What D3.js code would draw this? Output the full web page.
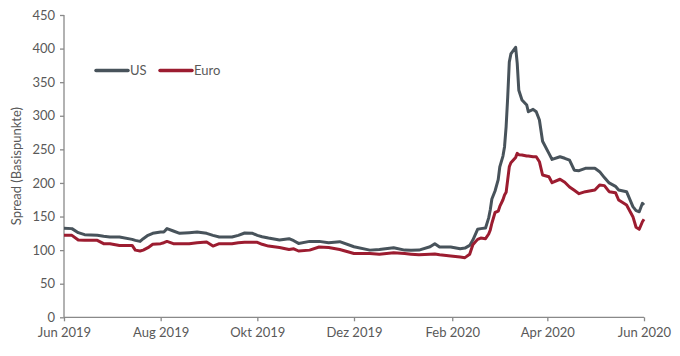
<!DOCTYPE html>
<html><head><meta charset="utf-8">
<script src="https://cdn.jsdelivr.net/npm/d3@7"></script>
<style>body{margin:0;background:#fff;} svg{display:block;}</style>
</head><body><svg id="c" width="680" height="356"></svg>
<script>
const seriesNames = ["US", "Euro"];
const dates = ["2019-06-01","2019-06-06","2019-06-10","2019-06-14","2019-06-22","2019-06-26","2019-06-30","2019-07-06","2019-07-14","2019-07-16","2019-07-19","2019-07-21","2019-07-24","2019-07-27","2019-08-01","2019-08-03","2019-08-05","2019-08-09","2019-08-13","2019-08-19","2019-08-24","2019-08-30","2019-09-03","2019-09-07","2019-09-15","2019-09-19","2019-09-23","2019-09-28","2019-10-01","2019-10-04","2019-10-08","2019-10-15","2019-10-21","2019-10-24","2019-10-27","2019-11-03","2019-11-09","2019-11-15","2019-11-22","2019-12-01","2019-12-11","2019-12-17","2019-12-26","2020-01-02","2020-01-06","2020-01-11","2020-01-18","2020-01-21","2020-01-24","2020-01-31","2020-02-06","2020-02-09","2020-02-12","2020-02-14","2020-02-17","2020-02-19","2020-02-22","2020-02-24","2020-02-25","2020-02-26","2020-02-28","2020-03-01","2020-03-02","2020-03-04","2020-03-05","2020-03-06","2020-03-07","2020-03-08","2020-03-09","2020-03-12","2020-03-13","2020-03-14","2020-03-16","2020-03-19","2020-03-20","2020-03-23","2020-03-25","2020-03-27","2020-03-29","2020-04-02","2020-04-04","2020-04-09","2020-04-12","2020-04-15","2020-04-18","2020-04-21","2020-04-25","2020-05-01","2020-05-04","2020-05-07","2020-05-10","2020-05-14","2020-05-16","2020-05-21","2020-05-25","2020-05-27","2020-05-29","2020-05-31","2020-06-01"];
const usValues = [132.5,132,126,123,122,120.5,119.5,119.5,116,114.5,113,117,122,125,127,127,132,128.5,125,126,127,125,122,119.5,119.5,122,125.5,125,122,120,118,115,117,114,110,113,113,111,112.6,105,100,101,103.6,100,99.7,100,105,109.6,104.6,104.6,102,103,107,115,131,132,133,148,160,176,188,205,224,240,254,284,328,380,392,402,378,338,323.5,316,306,309.6,306,293.7,262,244,235,239,236.7,234,219,218.3,221.8,221.8,216.8,208,200,195,189.5,187,164.7,158.7,157.2,169.7,167.2];
const euroValues = [122,122,115,114.6,114.6,109.6,109.6,107,107,100,98.7,100,103.6,108.7,109.6,111,113,109.6,109.6,109.6,111,112,106,109.6,109.6,111,111.6,111.6,111.6,108.7,106,104,101,102,98.7,100,104.6,104,101,95,95,94,96,95,94,93,94,94.3,93,91.2,89.7,88.8,93.8,108,116,118,117,124,130,140,156,158,165,175,182,186,205,224,230,238,244,242,241.6,240,240,239,239,231.6,211.8,209.3,200.4,205.5,201,194,189,184,187,189.5,197,196,187,185.5,174.6,167.2,149.8,134,131,142.3,145.9];
const yTicks = [0,50,100,150,200,250,300,350,400,450];
const xTickDates = ["2019-06-01","2019-08-01","2019-10-01","2019-12-01","2020-02-01","2020-04-01","2020-06-01"];
const xTickLabels = ["Jun 2019","Aug 2019","Okt 2019","Dez 2019","Feb 2020","Apr 2020","Jun 2020"];
const yLabel = "Spread (Basispunkte)";

const colors = {US:"#48535b", Euro:"#9c1c30"};
const parse = d3.timeParse("%Y-%m-%d");
const svg = d3.select("#c");
const m = {l:64, r:36, t:15, b:39};
const W = 680, H = 356;
const x = d3.scaleTime().domain([parse("2019-06-01"), parse("2020-06-01")]).range([m.l, 644]);
const y = d3.scaleLinear().domain([0,450]).range([317.3, 15]);
const font = "Lato, 'Open Sans', sans-serif";
const txt = "#595959", axc = "#898989";

const yAxis = d3.axisLeft(y).tickValues(yTicks).tickSize(4).tickPadding(5);
const gy = svg.append("g").attr("transform",`translate(${m.l},0)`).call(yAxis);
const xAxis = d3.axisBottom(x).tickValues(xTickDates.map(parse)).tickFormat((d,i)=>xTickLabels[i]).tickSize(4).tickPadding(6);
const gx = svg.append("g").attr("transform",`translate(0,${y(0)})`).call(xAxis);
[gx,gy].forEach(g=>{
  g.select(".domain").attr("stroke",axc).attr("stroke-width",1.3);
  g.selectAll(".tick line").attr("stroke",axc).attr("stroke-width",1.3);
  g.selectAll(".tick text").attr("fill",txt).style("font-family",font).style("font-size","13px");
});
gx.select(".domain").attr("d",`M${m.l},0H644`);
gy.select(".domain").attr("d",`M0,${y(0)}V${y(450)}`);

svg.append("text").attr("transform",`translate(21,${(y(0)+y(450))/2}) rotate(-90)`)
  .attr("text-anchor","middle").attr("fill",txt).style("font-family",font).style("font-size","13px").text(yLabel);

const data = {US: usValues, Euro: euroValues};
const line = d3.line().x((d,i)=>x(parse(dates[i]))).y(d=>y(d));
seriesNames.forEach(s=>{
  svg.append("path").datum(data[s]).attr("d",line).attr("fill","none")
    .attr("stroke",colors[s]).attr("stroke-width",3).attr("stroke-linejoin","round");
});

const legX = [96,160];
seriesNames.forEach((s,i)=>{
  const g = svg.append("g").attr("transform",`translate(${legX[i]},70.5)`);
  g.append("line").attr("x1",0).attr("x2",32).attr("stroke",colors[s]).attr("stroke-width",3.5).attr("stroke-linecap","round");
  g.append("text").attr("x",34).attr("y",4.5).attr("fill",txt).style("font-family",font).style("font-size","13px").text(s);
});
</script></body></html>
